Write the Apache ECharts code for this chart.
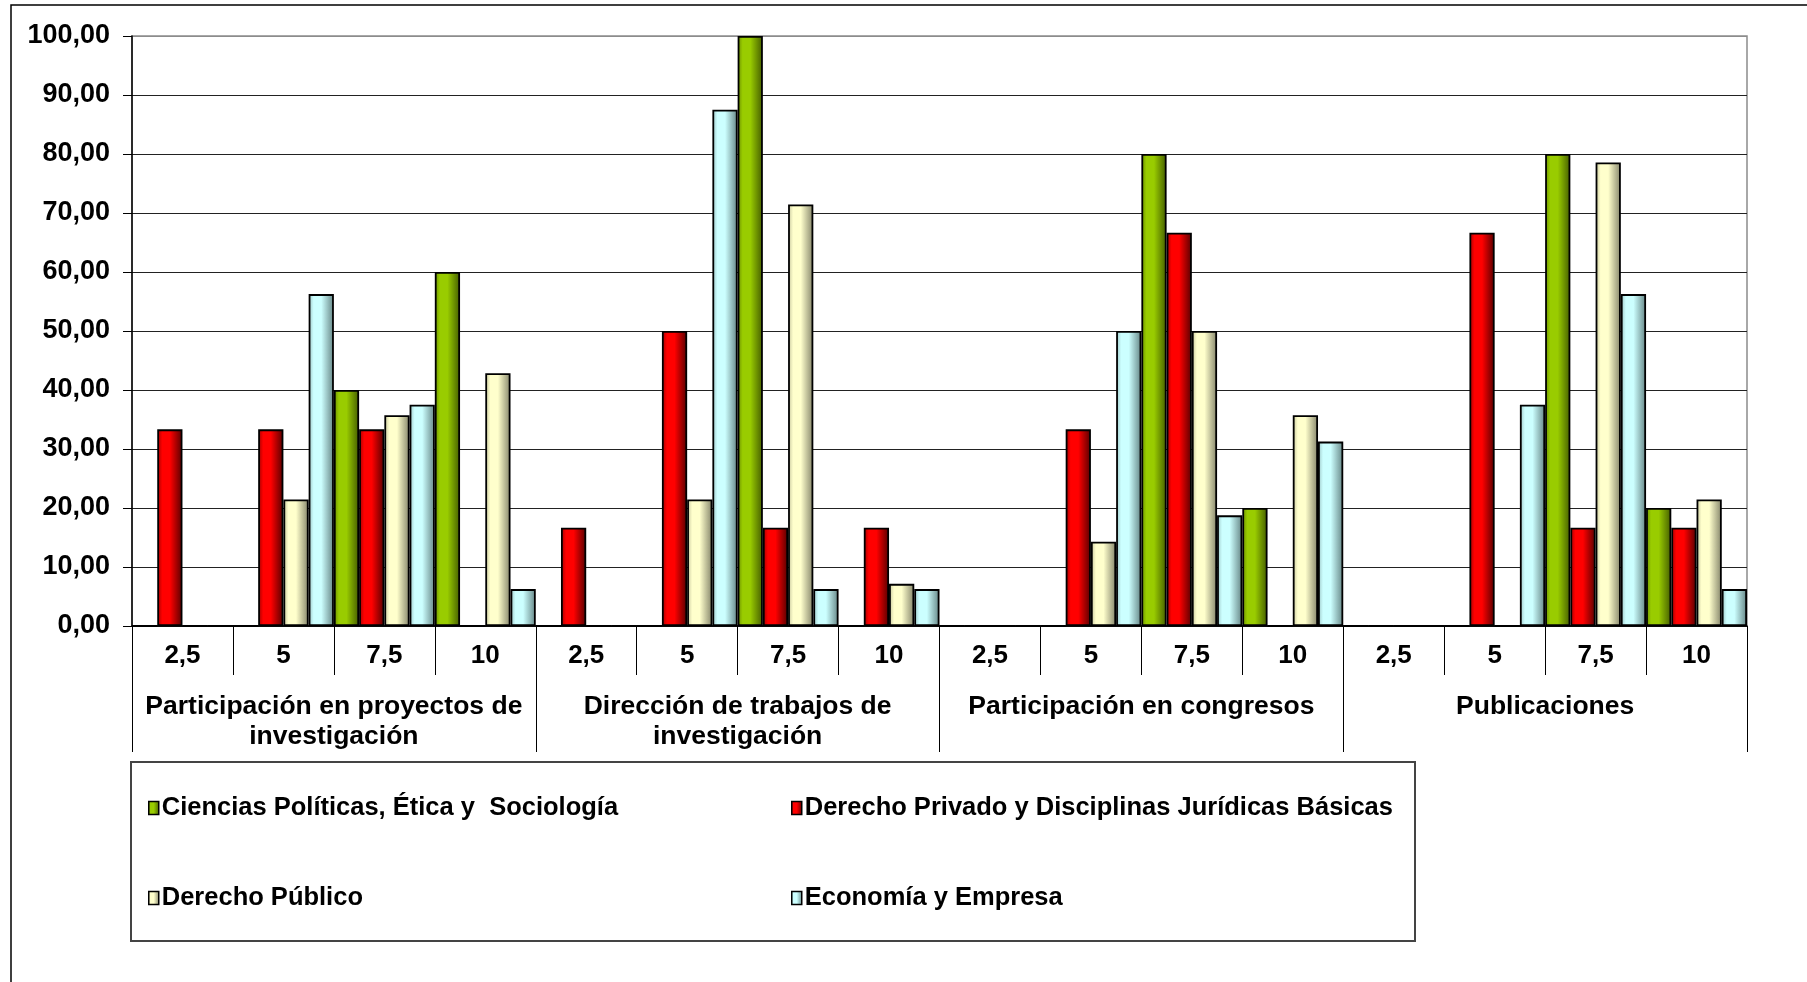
<!DOCTYPE html>
<html>
<head>
<meta charset="utf-8">
<script src="https://cdn.jsdelivr.net/npm/echarts@6/dist/echarts.min.js"></script>
<style>
  html, body { margin: 0; padding: 0; background: #fff; }
  #chart { width: 1807px; height: 982px; }
</style>
</head>
<body>
<div id="chart"></div>
<script>
// sub categories (nota) inside each group
var subLabels = ['2,5', '5', '7,5', '10'];
var groups = [
  'Participación en proyectos de\ninvestigación',
  'Dirección de trabajos de\ninvestigación',
  'Participación en congresos',
  'Publicaciones'
];
var seriesNames = [
  'Ciencias Políticas, Ética y  Sociología',
  'Derecho Privado y Disciplinas Jurídicas Básicas',
  'Derecho Público',
  'Economía y Empresa'
];
// values per 16 categories (group x sub label)
var cienciasPoliticas = [0, 0, 40, 60,   0, 0, 100, 0,   0, 0, 80, 20,   0, 0, 80, 20];
var derechoPrivado    = [33.33, 33.33, 33.33, 0,   16.67, 50, 16.67, 16.67,   0, 33.33, 66.67, 0,   0, 66.67, 16.67, 16.67];
var derechoPublico    = [0, 21.43, 35.71, 42.86,   0, 21.43, 71.43, 7.14,   0, 14.29, 50, 35.71,   0, 0, 78.57, 21.43];
var economiaEmpresa   = [0, 56.25, 37.5, 6.25,   0, 87.5, 6.25, 6.25,   0, 50, 18.75, 31.25,   0, 37.5, 56.25, 6.25];

// colores tipo excel con sombreado cilindrico
var palette = [
  ['#6b8f00', '#99cc00', '#445c00'],
  ['#a00000', '#ff0000', '#550000'],
  ['#c4c49c', '#ffffcc', '#84846a'],
  ['#9cc4c4', '#ccffff', '#648484']
];
function shade(p) {
  return new echarts.graphic.LinearGradient(0, 0, 1, 0, [
    { offset: 0, color: p[0] },
    { offset: 0.2, color: p[1] },
    { offset: 0.5, color: p[1] },
    { offset: 1, color: p[2] }
  ]);
}

var catKeys = [];
groups.forEach(function (g, gi) {
  subLabels.forEach(function (s) { catKeys.push(gi + '|' + s); });
});

var allData = [cienciasPoliticas, derechoPrivado, derechoPublico, economiaEmpresa];
var font = 'Liberation Sans, Arial, sans-serif';

var myChart = echarts.init(document.getElementById('chart'));
var option = {
  animation: false,
  backgroundColor: '#fff',
  grid: {
    left: 132, right: 60, top: 36, bottom: 356,
    show: true, borderColor: '#8c8c8c', borderWidth: 1.5
  },
  xAxis: [
    {
      type: 'category',
      data: catKeys,
      position: 'bottom',
      axisLine: { show: true, lineStyle: { color: '#000', width: 1.5 } },
      axisTick: { show: true, interval: 0, length: 49, lineStyle: { color: '#000', width: 1 } },
      axisLabel: {
        interval: 0, margin: 17,
        color: '#000', fontFamily: font, fontWeight: 'bold', fontSize: 26,
        formatter: function (v) { return v.split('|')[1]; }
      }
    },
    {
      type: 'category',
      data: groups,
      position: 'bottom',
      axisLine: { show: false },
      axisTick: { show: true, interval: 0, length: 126, lineStyle: { color: '#000', width: 1 } },
      axisLabel: {
        interval: 0, margin: 66, lineHeight: 30,
        color: '#000', fontFamily: font, fontWeight: 'bold', fontSize: 26.5
      }
    }
  ],
  yAxis: {
    type: 'value',
    min: 0, max: 100, interval: 10,
    axisLine: { show: true, lineStyle: { color: '#000', width: 1.5 } },
    axisTick: { show: true, length: 9, lineStyle: { color: '#000' } },
    axisLabel: {
      margin: 22, color: '#000', fontFamily: font, fontWeight: 'bold', fontSize: 27,
      formatter: function (v) { return v.toFixed(2).replace('.', ','); }
    },
    splitLine: {
      lineStyle: {
        color: ['#222', '#222', '#222', '#222', '#222', '#222', '#222', '#222', '#222', '#222', '#8c8c8c'],
        width: 1.2
      }
    }
  },
  legend: seriesNames.map(function (n, i) {
    return {
      data: [n],
      left: i % 2 === 0 ? 143 : 786,
      top: i < 2 ? 790 : 880,
      icon: 'rect',
      itemWidth: 10, itemHeight: 13,
      itemStyle: { borderColor: '#000', borderWidth: 1.5 },
      textStyle: { color: '#000', fontFamily: font, fontWeight: 'bold', fontSize: 25.5, padding: [0, 0, 0, -2] }
    };
  }),
  graphic: [
    {
      type: 'rect',
      shape: { x: 11, y: 5, width: 1900, height: 1100 },
      style: { fill: 'none', stroke: '#000', lineWidth: 1.5 },
      silent: true
    },
    {
      type: 'rect',
      shape: { x: 131, y: 762, width: 1284, height: 179 },
      style: { fill: 'none', stroke: '#444', lineWidth: 2 },
      silent: true
    }
  ],
  series: seriesNames.map(function (n, i) {
    return {
      name: n,
      type: 'bar',
      xAxisIndex: 0,
      data: allData[i],
      barGap: '0%',
      barCategoryGap: '0%',
      itemStyle: { color: shade(palette[i]), borderColor: '#000', borderWidth: 1.8 }
    };
  })
};
myChart.setOption(option);
</script>
</body>
</html>
